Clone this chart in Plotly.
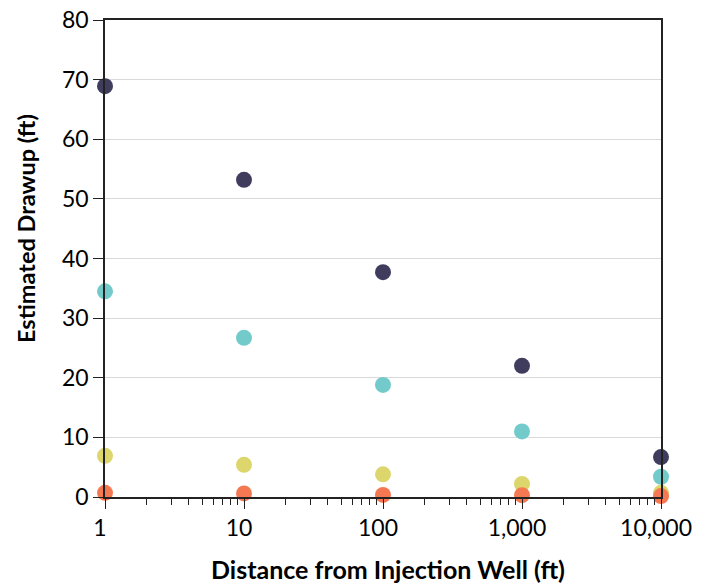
import plotly.graph_objects as go

distance = [1, 10, 100, 1000, 10000]
series_a = [68.9, 53.2, 37.7, 22.0, 6.7]
series_b = [34.5, 26.7, 18.8, 11.0, 3.4]
series_c = [6.9, 5.4, 3.8, 2.2, 0.7]
series_d = [0.7, 0.6, 0.35, 0.3, 0.15]
colors = ["#403c5e", "#72cbca", "#dcd66c", "#f47953"]
x_tickvals = [1, 10, 100, 1000, 10000]
x_ticktext = ["1", "10", "100", "1,000", "10,000"]
y_tickvals = [0, 10, 20, 30, 40, 50, 60, 70, 80]

FONT = "Lato"

fig = go.Figure()
for vals, col in zip([series_a, series_b, series_c, series_d], colors):
    fig.add_trace(go.Scatter(x=distance, y=vals, mode="markers",
                             marker=dict(size=16, color=col, line=dict(width=0)),
                             showlegend=False, cliponaxis=False, hoverinfo="skip"))

fig.update_layout(
    width=709, height=585,
    margin=dict(l=105, r=48, t=20, b=88, autoexpand=False),
    paper_bgcolor="white", plot_bgcolor="white",
    font=dict(family=FONT, color="black"),
    xaxis=dict(type="log", range=[0, 4], tickvals=x_tickvals, ticktext=x_ticktext,
               automargin=False, ticklabelshift=-5,
               ticks="outside", ticklen=10, tickwidth=1, tickcolor="#222",
               showline=True, linecolor="#222", linewidth=1.5, mirror=True,
               showgrid=False, zeroline=False,
               tickfont=dict(size=23, family=FONT),
               minor=dict(ticks="outside", ticklen=6, tickwidth=1, tickcolor="#222",
                          dtick="D1", showgrid=False)),
    yaxis=dict(range=[0, 80], tickvals=y_tickvals, automargin=False,
               ticks="outside", ticklen=10, tickwidth=1, tickcolor="#222",
               showline=True, linecolor="#222", linewidth=1.5, mirror=True,
               showgrid=True, gridcolor="#d9d9d9", gridwidth=1.3, zeroline=False,
               tickfont=dict(size=23, family=FONT)),
    annotations=[
        dict(text="<b>Estimated Drawup (ft)</b>", textangle=-90,
             xref="paper", yref="paper", x=-0.142, y=0.562,
             xanchor="center", yanchor="middle", showarrow=False,
             font=dict(size=23.5, family=FONT)),
        dict(text="<b>Distance from Injection Well (ft)</b>",
             xref="paper", yref="paper", x=0.509, y=-0.151,
             xanchor="center", yanchor="middle", showarrow=False,
             font=dict(size=25, family=FONT)),
    ],
)

fig.write_html("out.html", config={"displayModeBar": False},
               post_script="document.body.style.margin='0';document.body.style.padding='0';")
